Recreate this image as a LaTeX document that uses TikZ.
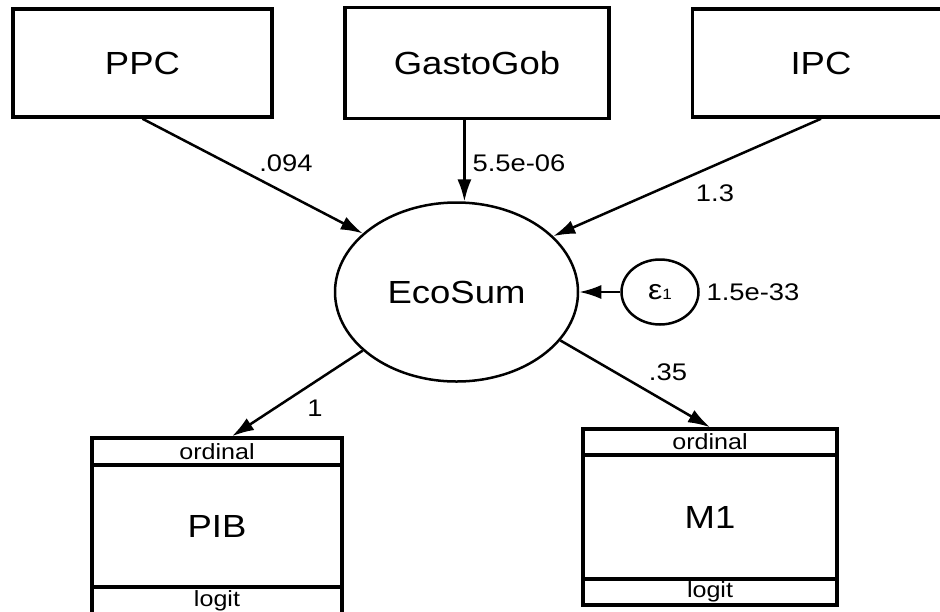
\documentclass[tikz,border=0pt]{standalone}
\usepackage{fontspec}
\setmainfont{Liberation Sans}[FakeStretch=1.14]
\usetikzlibrary{arrows.meta,shapes.geometric}

\tikzset{
  obs/.style={draw, line width=3.5pt, font=\fontsize{32}{38}\selectfont},
  lat/.style={draw, ellipse, line width=2.5pt, minimum width=243pt, minimum height=179pt, font=\fontsize{32}{38}\selectfont},
  err/.style={draw, ellipse, line width=2.5pt, minimum width=77pt, minimum height=65pt, inner sep=0pt},
  strip/.style={draw, line width=3.5pt, inner sep=0pt, font=\fontsize{22}{24}\selectfont},
  lbl/.style={font=\fontsize{24}{26}\selectfont},
  arr/.style={line width=2.5pt, -{Latex[length=22pt,width=14pt]}}
}

\begin{document}
\begin{tikzpicture}[x=1pt,y=-1pt]
	\useasboundingbox (0,0) rectangle (940,611);
	%% observed exogenous
	\node[obs, minimum width=259pt, minimum height=108pt] (ppc) at (142.5,63) {PPC};
	\node[obs, minimum width=264pt, minimum height=111pt] (gasto) at (477,63) {GastoGob};
	\node[obs, minimum width=257pt, minimum height=108pt] (ipc) at (821,63) {IPC};
	%% latent and error
	\node[lat] (eco) at (456.5,292) {EcoSum};
	\node[err] (eps) at (660,292) {{\fontsize{28}{30}\selectfont ε}{\fontsize{15}{16}\selectfont 1}};
	%% ordinal outcomes
	\node[obs, minimum width=250pt, minimum height=176pt] (pib) at (217,526) {PIB};
	\node[strip, minimum width=250pt, minimum height=27pt, anchor=north] (pibo) at (pib.north) {ordinal};
	\node[strip, minimum width=250pt, minimum height=27pt, anchor=south] (pibl) at (pib.south) {logit};
	\node[obs, minimum width=254pt, minimum height=176pt] (m1) at (710,517) {M1};
	\node[strip, minimum width=254pt, minimum height=26pt, anchor=north] (m1o) at (m1.north) {ordinal};
	\node[strip, minimum width=254pt, minimum height=26pt, anchor=south] (m1l) at (m1.south) {logit};
	%% paths
	\draw[arr] (ppc.south) -- (eco.148);
	\draw[arr] (gasto.south -| eco.85) -- (eco.85);
	\draw[arr] (ipc.south) -- (eco.30);
	\draw[arr] (eps) -- (eco);
	\draw[arr] (eco.212) -- ([xshift=15pt]pib.north);
	\draw[arr] (eco.-25) -- (m1.north);
	%% coefficients
	\node[lbl] (w1) at (286,163) {.094};
	\node[lbl] (w2) at (519,163) {5.5e-06};
	\node[lbl] (w3) at (715,193) {1.3};
	\node[lbl] (w4) at (753,292) {1.5e-33};
	\node[lbl] (w5) at (315,408) {1};
	\node[lbl] (w6) at (668,372) {.35};
\end{tikzpicture}
\end{document}
